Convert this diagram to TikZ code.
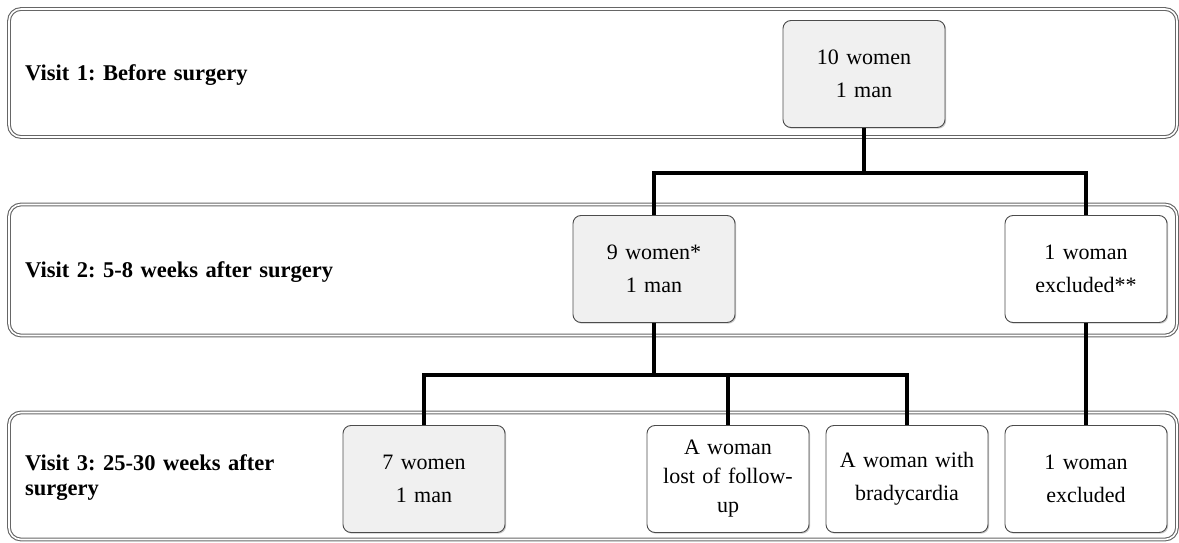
\documentclass[tikz,border=0pt]{standalone}
\usepackage{fontspec}
\setmainfont{Liberation Serif}
\frenchspacing
\usetikzlibrary{shadows}
\tikzstyle{panel} = [rectangle, rounded corners=12pt, minimum width=1168pt, draw=black!60, line width=1.1pt, double=white, double distance=1.6pt]
\tikzstyle{visit} = [anchor=west, text width=330pt, align=left, font=\fontsize{22.5}{25}\selectfont\bfseries, inner sep=0pt]
\tikzstyle{group} = [rectangle, rounded corners=8pt, minimum width=162pt, minimum height=107pt, text width=152pt, align=center, draw=black!70, line width=0.9pt, fill=white, font=\fontsize{22}{33}\selectfont, drop shadow={shadow xshift=1.2pt, shadow yshift=-1.2pt, opacity=0.35, fill=black!60}]
\tikzstyle{kept} = [group, fill=black!6]
\tikzstyle{link} = [line width=3.2pt]

\begin{document}
\begin{tikzpicture}[x=1pt, y=-1pt]
	\useasboundingbox (0,0) rectangle (1179,543);
	% rows
	\node (p1) [panel, minimum height=128pt] at (593,73) {};
	\node (p2) [panel, minimum height=131pt] at (593,270) {};
	\node (p3) [panel, minimum height=127pt] at (593,476) {};
	\node (l1) [visit] at (25,75) {Visit 1: Before surgery};
	\node (l2) [visit] at (25,272) {Visit 2: 5-8 weeks after surgery};
	\node (l3) [visit] at (25,478) {Visit 3: 25-30 weeks after\\surgery};
	
	% groups
	\node (n0) [kept] at (864,74) {10 women\\1 man};
	\node (n1) [kept] at (654,269) {9 women*\\1 man};
	\node (n2) [group] at (1086,269) {1 woman\\excluded**};
	\node (n3) [kept] at (424,479) {7 women\\1 man};
	\node (n4) [group, font=\fontsize{22}{29}\selectfont] at (728,479) {A woman\\lost of follow-\\up};
	\node (n5) [group] at (907,479) {A woman with\\bradycardia};
	\node (n6) [group] at (1086,479) {1 woman\\excluded};
	
	\coordinate (j1) at (864,173);
	\coordinate (j2) at (654,375);
	
	\draw [link] (n0.south) -- (j1);
	\draw [link] (j1) -| (n1.north);
	\draw [link] (j1) -| (n2.north);
	\draw [link] (n1.south) -- (j2);
	\draw [link] (j2) -| (n3.north);
	\draw [link] (j2) -| (n4.north);
	\draw [link] (j2) -| (n5.north);
	\draw [link] (n2.south) -- (n6.north);
\end{tikzpicture}
\end{document}
